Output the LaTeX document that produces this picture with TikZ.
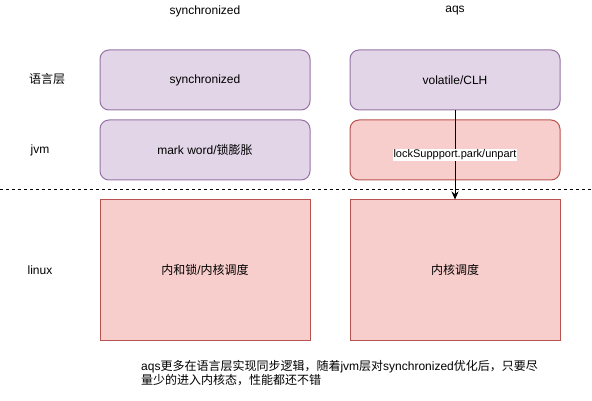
\documentclass[tikz,border=0pt]{standalone}
\usepackage{fontspec}
\setmainfont{Liberation Sans}
\newfontfamily\cjk{Noto Sans CJK SC}
\usetikzlibrary{arrows.meta}
\usetikzlibrary{positioning}

\definecolor{lilacfill}{HTML}{E1D5E7}
\definecolor{lilacline}{HTML}{9673A6}
\definecolor{rosefill}{HTML}{F8CECC}
\definecolor{roseline}{HTML}{B85450}

\tikzset{
  layerbox/.style={draw, line width=1pt, minimum width=210pt, minimum height=60pt},
  langbox/.style={layerbox, rounded corners=9pt, fill=lilacfill, draw=lilacline},
  jvmbox/.style={layerbox, rounded corners=9pt, fill=rosefill, draw=roseline},
  osbox/.style={layerbox, minimum height=140pt, fill=rosefill, draw=roseline},
  rowlabel/.style={inner sep=0pt}
}

\begin{document}
\begin{tikzpicture}[x=1pt, y=-1pt, font=\fontsize{12}{14}\selectfont]
  \useasboundingbox (0,0) rectangle (592,401);

  % column titles
  \node[rowlabel] (synTitle) at (205,11) {synchronized};
  \node[rowlabel] (aqsTitle) at (455,11) {aqs};

  % row titles
  \node[rowlabel] (langTitle) at (47,79) {\cjk 语言层};
  \node[rowlabel] (jvmTitle) at (40,150) {jvm};
  \node[rowlabel] (osTitle) at (40,270) {linux};

  % synchronized side
  \node[langbox] (synLang) at (205,80) {synchronized};
  \node[langbox] (synJvm) at (205,150) {mark word/{\cjk 锁膨胀}};
  \node[osbox] (synOs) at (205,270) {{\cjk 内和锁}/{\cjk 内核调度}};

  % aqs side
  \node[langbox] (aqsLang) at (455,80) {volatile/CLH};
  \node[jvmbox] (aqsJvm) at (455,150) {};
  \node[osbox] (aqsOs) at (455,270) {\cjk 内核调度};

  % user / kernel divider
  \draw[line width=1pt, dash pattern=on 3pt off 3pt] (0,190) -- (592,190);

  \draw[line width=1pt, -{Stealth[length=8pt, width=7pt]}] (aqsLang) --
    node[fill=white, inner sep=1pt, font=\fontsize{11}{13}\selectfont] (parkLabel) {lockSuppport.park/unpart}
    (aqsOs);

  % note
  \node[anchor=north west, align=left, inner sep=0pt] (note) at (141,360)
    {aqs{\cjk 更多在语言层实现同步逻辑，随着}jvm{\cjk 层对}synchronized{\cjk 优化后，只要尽}\\
     {\cjk 量少的进入内核态，性能都还不错}};
\end{tikzpicture}
\end{document}
